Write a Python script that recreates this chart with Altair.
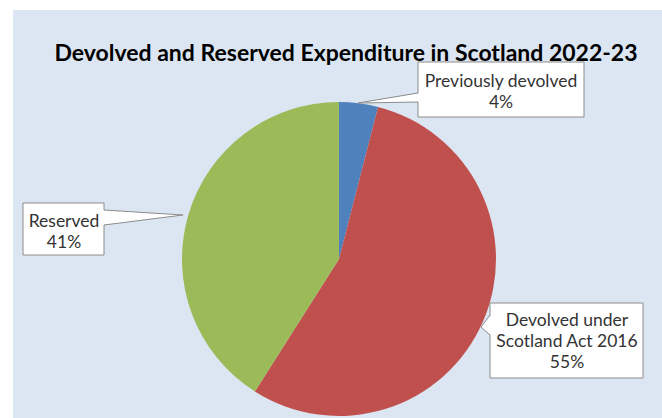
import altair as alt
import pandas as pd

# ---- data ----
categories = ["Previously devolved", "Devolved under Scotland Act 2016", "Reserved"]
values = [4, 55, 41]
colors = ["#4F81BD", "#C0504D", "#9BBB59"]
label_lines = [["Previously devolved"], ["Devolved under", "Scotland Act 2016"], ["Reserved"]]
title_text = "Devolved and Reserved Expenditure in Scotland 2022-23"

# ---- layout (pixels inside the plot area) ----
W, H = 649, 408
CX, CY, R = 326, 249, 157
FONT = "Lato"
LABEL_SIZE = 17.5
LINE_H = 21
layout = [
    dict(box=(405, 52, 571, 107), tip=(345, 93), base=(405, 83, 92), inner=1, tx=488, ty=77),
    dict(box=(477, 293, 630, 368), tip=(468, 317), base=(477, 305, 325), inner=1, tx=554, ty=316),
    dict(box=(10, 193, 91, 245), tip=(170, 205), base=(91, 200, 215), inner=-1, tx=51, ty=217),
]

pie_df = pd.DataFrame({"category": categories, "value": values, "order": list(range(len(values)))})

pie = alt.Chart(pie_df).mark_arc(outerRadius=R).encode(
    theta=alt.Theta("value:Q", stack=True),
    order=alt.Order("order:Q"),
    color=alt.Color("category:N", scale=alt.Scale(domain=categories, range=colors), legend=None),
    x=alt.value(CX),
    y=alt.value(CY),
)

box_rows, area_rows, edge_rows, text_rows = [], [], [], []
for i, (cat, val, lines, lay) in enumerate(zip(categories, values, label_lines, layout)):
    x1, y1, x2, y2 = lay["box"]
    box_rows.append(dict(x1=x1, y1=y1, x2=x2, y2=y2))
    tx, ty = lay["tip"]
    bx, by1, by2 = lay["base"]
    area_rows.append(dict(g=i, x=tx, y=ty, y2=ty))
    area_rows.append(dict(g=i, x=bx + lay["inner"], y=by1, y2=by2))
    edge_rows.append(dict(x=tx, y=ty, x2=bx, y2=by1))
    edge_rows.append(dict(x=tx, y=ty, x2=bx, y2=by2))
    all_lines = lines + [f"{val}%"]
    for j, t in enumerate(all_lines):
        text_rows.append(dict(x=lay["tx"], y=lay["ty"] + j * LINE_H, text=t))

XS = dict(scale=None, axis=None)

boxes = alt.Chart(pd.DataFrame(box_rows)).mark_rect(
    fill="white", stroke="#8C8C8C", strokeWidth=1
).encode(
    x=alt.X("x1:Q", **XS), x2="x2:Q", y=alt.Y("y1:Q", **XS), y2="y2:Q"
)

wedges = alt.Chart(pd.DataFrame(area_rows)).mark_area(fill="white", opacity=1).encode(
    x=alt.X("x:Q", **XS), y=alt.Y("y:Q", **XS), y2="y2:Q", detail="g:N"
)

edges = alt.Chart(pd.DataFrame(edge_rows)).mark_rule(color="#8C8C8C", strokeWidth=1).encode(
    x=alt.X("x:Q", **XS), y=alt.Y("y:Q", **XS), x2="x2:Q", y2="y2:Q"
)

labels = alt.Chart(pd.DataFrame(text_rows)).mark_text(
    align="center", baseline="alphabetic", font=FONT, fontSize=LABEL_SIZE, color="#333333"
).encode(
    x=alt.X("x:Q", **XS), y=alt.Y("y:Q", **XS), text="text:N"
)

title = alt.Chart(pd.DataFrame({"t": [title_text]})).mark_text(
    align="center", baseline="alphabetic", font=FONT, fontSize=23, fontWeight="bold", color="#000000"
).encode(
    x=alt.value(333), y=alt.value(51), text="t:N"
)

chart = alt.layer(pie, boxes, wedges, edges, labels, title).properties(
    width=W,
    height=H,
    padding={"left": 13, "top": 10, "right": 0, "bottom": 0},
    autosize=alt.AutoSizeParams(type="none"),
    background="white",
).configure_view(fill="#DCE6F2", stroke=None)

chart.save("out.html", embed_options={"renderer": "svg", "actions": False})
